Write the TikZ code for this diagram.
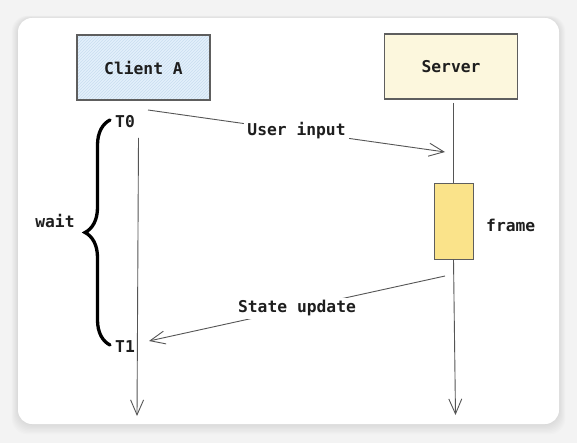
\documentclass[tikz,border=0pt]{standalone}
\usepackage{fontspec}
\setmonofont{DejaVu Sans Mono}
\usetikzlibrary{arrows.meta,decorations.pathreplacing,patterns,calc}
\definecolor{linegray}{HTML}{555555}
\definecolor{boxborder}{HTML}{5E5E5E}
\definecolor{clientfill}{HTML}{E4F0FB}
\definecolor{hatchcol}{HTML}{C9DDF0}
\definecolor{serverfill}{HTML}{FCF7DD}
\definecolor{framefill}{HTML}{FAE38A}
\definecolor{outerbg}{HTML}{F3F3F3}
\definecolor{txt}{HTML}{1E1E1E}
\begin{document}
\begin{tikzpicture}[x=1pt,y=-1pt,
  font=\ttfamily\bfseries\fontsize{16.3}{19}\selectfont,
  actor/.style={draw=boxborder, line width=1.1pt, minimum width=133pt, minimum height=65pt, inner sep=0pt, text=txt},
  framebox/.style={draw=boxborder, line width=1pt, fill=framefill, minimum width=39pt, minimum height=75pt, inner sep=0pt},
  life/.style={draw=linegray, line width=0.9pt},
  tip/.style={-{Straight Barb[length=15pt,width=13pt,line width=0.9pt]}},
  lbl/.style={fill=white, inner sep=3pt, text=txt},
  plain/.style={inner sep=0pt, text=txt},
  bracestyle/.style={draw=black, line width=3.3pt, line cap=round, decorate, decoration={brace, amplitude=25pt}}
]
\useasboundingbox (0,0) rectangle (577,443);
% background and card
\fill[outerbg] (0,0) rectangle (577,443);
\foreach \i in {1,...,8} {
  \fill[black, opacity=0.012, rounded corners=16pt] ($(18,18)+(-\i*0.8,-\i*0.3)$) rectangle ($(559,424)+(\i*0.8,\i*1.3)$);
}
\fill[white, rounded corners=14pt] (18,18) rectangle (559,424);

% actors
\node[actor, fill=clientfill] (client) at (143.5,67.5) {};
\fill[pattern=north east lines, pattern color=hatchcol] ($(client.south west)+(0.6,-0.6)$) rectangle ($(client.north east)+(-0.6,0.6)$);
\node[actor] (clientlbl) at (143.5,67.5) {Client A};
\node[actor, fill=serverfill] (server) at (451,66.5) {Server};
\node[framebox] (frame) at (453.5,221.5) {};
\node[plain, anchor=west] (framelbl) at (486,225) {frame};

% lifelines
\coordinate (s0) at (453.5,103);
\coordinate (s1) at (455.5,415);
\draw[life] (s0) -- (frame.north);
\draw[life, tip] (frame.south) -- (s1);
\coordinate (c0) at (138.5,138);
\coordinate (c1) at (137,416);
\draw[life, tip] (c0) -- (c1);

% messages
\coordinate (u0) at (148,110);
\coordinate (u1) at (445,152);
\draw[life, tip] (u0) -- node[lbl] (userlbl) {User input} (u1);
\coordinate (d0) at (445,276);
\coordinate (d1) at (149,341);
\draw[life, tip] (d0) -- node[lbl] (statelbl) {State update} (d1);

% time marks and brace
\node[plain] (t0) at (125,122) {T0};
\node[plain] (t1) at (125,347) {T1};
\coordinate (b1) at (110,345);
\coordinate (b0) at (110,120);
\draw[bracestyle] (b1) -- (b0);
\node[plain] (wait) at (55,221) {wait};
\end{tikzpicture}
\end{document}
